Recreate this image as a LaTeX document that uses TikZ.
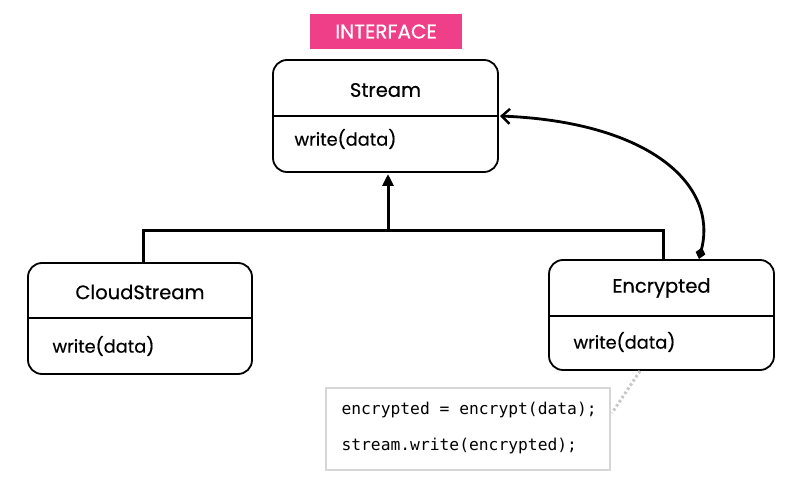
\documentclass[tikz,border=0pt]{standalone}
\usepackage{fontspec}
\setmainfont{Poppins}[FakeBold=0.5]
\setmonofont{DejaVu Sans Mono}
\usetikzlibrary{arrows.meta,calc}
\definecolor{pinkc}{HTML}{EF3F88}
\definecolor{codegray}{HTML}{D6D6D6}
\definecolor{dotgray}{HTML}{C8C8C8}
\begin{document}
\begin{tikzpicture}[x=1pt,y=-1pt,
  cbox/.style={draw=black,line width=1.8pt,rounded corners=14pt},
  ttl/.style={font=\fontsize{19.5}{22}\selectfont},
  meth/.style={font=\fontsize{17.8}{20}\selectfont,anchor=west},
  conn/.style={line width=3pt},
  code/.style={font=\ttfamily\fontsize{16.3}{18}\selectfont,anchor=west}]
\useasboundingbox (0,0) rectangle (790,489);
\fill[white] (0,0) rectangle (790,489);
% interface tag
\node[fill=pinkc,text=white,minimum width=152pt,minimum height=35pt,inner sep=0pt,font=\fontsize{20}{22}\selectfont] (tag) at (386,31.5) {INTERFACE};
% Stream
\draw[cbox] (273,60) rectangle (498,172);
\draw[line width=1.8pt] (273,116) -- (498,116);
\coordinate (streamR) at (500,116);
\coordinate (streamB) at (388,174);
\node[ttl] (stream) at (385.5,90) {Stream};
\node[meth] (sw) at (291,139) {write(data)};
% CloudStream
\draw[cbox] (28,263) rectangle (252,374);
\draw[line width=1.8pt] (28,318) -- (252,318);
\coordinate (cloudT) at (143,263);
\node[ttl] (cloud) at (140,292) {CloudStream};
\node[meth] (cw) at (49,346) {write(data)};
% Encrypted
\draw[cbox] (549,260) rectangle (774,370);
\draw[line width=1.8pt] (549,316) -- (774,316);
\coordinate (encT) at (663,260);
\coordinate (encD) at (699,259);
\coordinate (encB) at (640,371);
\node[ttl] (enc) at (661.5,288) {Encrypted};
\node[meth] (ew) at (570,342) {write(data)};
% inheritance
\coordinate (junc) at (388,231);
\draw[conn] (cloudT) |- (junc) -| (encT);
\draw[conn,-{Triangle[length=12pt,width=11pt]}] (junc) -- (streamB);
% aggregation curve
\draw[line width=2.8pt,{Diamond[length=12pt,width=10pt]}-{Straight Barb[length=8pt,width=15pt,line width=2.4pt]}]
  (encD) .. controls (718,185) and (650,122) .. (streamR);
% code box
\draw[codegray,line width=1.6pt] (326,388) rectangle (610,470);
\node[code] (c1) at (338,410) {encrypted = encrypt(data);};
\node[code] (c2) at (338,446) {stream.write(encrypted);};
\coordinate (codeR) at (612,413);
\draw[dotgray,line width=3pt,dash pattern=on 2.5pt off 2.5pt] (encB) -- (codeR);
\end{tikzpicture}
\end{document}
